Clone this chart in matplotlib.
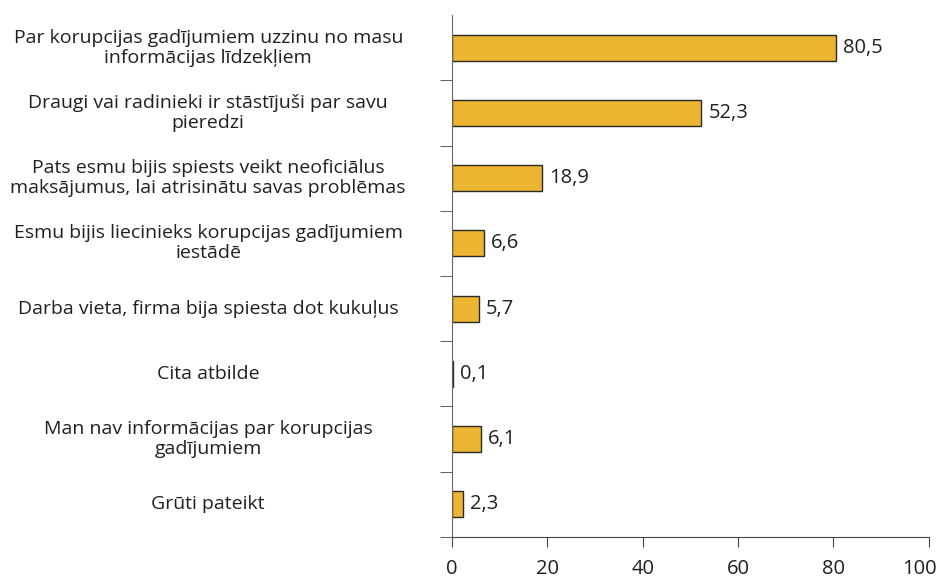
import matplotlib.pyplot as plt
from matplotlib.transforms import blended_transform_factory, ScaledTranslation

categories = [
    "Par korupcijas gadījumiem uzzinu no masu\ninformācijas līdzekļiem",
    "Draugi vai radinieki ir stāstījuši par savu\npieredzi",
    "Pats esmu bijis spiests veikt neoficiālus\nmaksājumus, lai atrisinātu savas problēmas",
    "Esmu bijis liecinieks korupcijas gadījumiem\niestādē",
    "Darba vieta, firma bija spiesta dot kukuļus",
    "Cita atbilde",
    "Man nav informācijas par korupcijas\ngadījumiem",
    "Grūti pateikt",
]
values = [80.5, 52.3, 18.9, 6.6, 5.7, 0.1, 6.1, 2.3]
xticks = [0, 20, 40, 60, 80, 100]

plt.rcParams['font.family'] = ['Open Sans', 'DejaVu Sans']
txt = '#231f20'

fig = plt.figure(figsize=(9.38, 5.83), dpi=100)
ax = fig.add_axes([0.482, 0.079, 0.508, 0.895])

ypos = list(range(len(values)))
ax.barh(ypos, values, height=0.4, color='#ebb531', edgecolor='#2a2a2a', linewidth=1)
ax.set_ylim(len(values) - 0.5, -0.5)
ax.set_xlim(0, 100)

for y, v in zip(ypos, values):
    ax.annotate(f"{v:.1f}".replace('.', ','), (v, y), xytext=(5, 0),
                textcoords='offset points', va='center', ha='left',
                fontsize=14.5, color=txt)

trans = blended_transform_factory(fig.transFigure, ax.transData)
for y, c in zip(ypos, categories):
    fig.text(0.222, y, c, transform=trans, ha='center', va='center',
             multialignment='center', fontsize=14, color=txt, linespacing=1.15)

ax.set_yticks([])
ax.set_yticks([i + 0.5 for i in ypos], minor=True)
ax.tick_params(axis='y', which='minor', length=9, color='#444', direction='out')
ax.set_xticks(xticks)
ax.set_xticklabels([str(t) for t in xticks], fontsize=14.5, color=txt)
ax.tick_params(axis='x', length=7, color='#444', pad=9)
# last label sits a bit left so it stays inside the figure
last = ax.get_xticklabels()[-1]
last.set_transform(last.get_transform() + ScaledTranslation(-9 / 100, 0, fig.dpi_scale_trans))

for s in ['top', 'right']:
    ax.spines[s].set_visible(False)
ax.spines['left'].set_color('#666')
ax.spines['bottom'].set_color('#444')

plt.savefig('out.png')
